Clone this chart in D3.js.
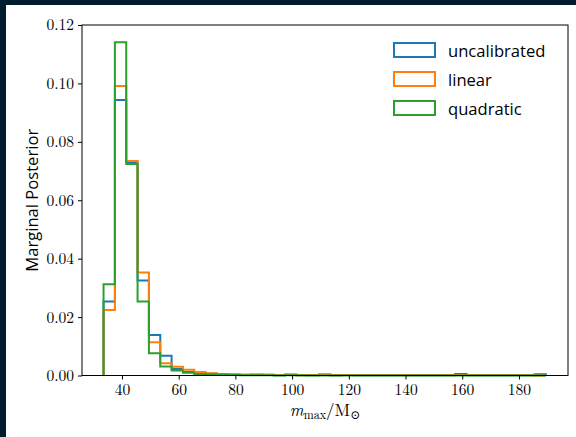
<!DOCTYPE html>
<html>
<head>
<meta charset="utf-8">
<script src="https://cdn.jsdelivr.net/npm/d3@7"></script>
<style>
html,body{margin:0;padding:0;background:#011c2f;}
svg{display:block;}
</style>
</head>
<body>
<script>
// ---- data ----
const binEdges = [33.5, 37.5, 41.5, 45.5, 49.5, 53.5, 57.5, 61.5, 65.5, 69.5,
  73.5, 77.5, 81.5, 85.5, 89.5, 93.5, 97.5, 101.5, 105.5, 109.5,
  113.5, 117.5, 121.5, 125.5, 129.5, 133.5, 137.5, 141.5, 145.5, 149.5,
  153.5, 157.5, 161.5, 165.5, 169.5, 173.5, 177.5, 181.5, 185.5, 189.5];
const seriesNames = ["uncalibrated", "linear", "quadratic"];
const seriesColors = ["#1f77b4", "#ff7f0e", "#2ca02c"];
const uncalibrated = [0.0253, 0.0943, 0.0731, 0.0325, 0.0139, 0.0068, 0.0022, 0.0012, 0.0008, 0.0006,
  0.0005, 0.0003, 0.0002, 0.0003, 0.0002, 0.0001, 0.0003, 0.0002, 0.0001, 0.0003,
  0.0001, 0.0002, 0.0001, 0.0001, 0.0001, 0.0001, 0.0001, 0.0001, 0.0001, 0.0001,
  0.0001, 0.0005, 0.0001, 0.0001, 0.0001, 0.0001, 0.0001, 0.0001, 0.0004];
const linear = [0.0224, 0.0991, 0.0734, 0.0353, 0.0114, 0.0042, 0.0030, 0.0020, 0.0012, 0.0008,
  0.0005, 0.0004, 0.0003, 0.0002, 0.0003, 0.0002, 0.0002, 0.0001, 0.0002, 0.0003,
  0.0001, 0.0002, 0.0002, 0.0002, 0.0002, 0.0002, 0.0002, 0.0002, 0.0002, 0.0002,
  0.0002, 0.0002, 0.0002, 0.0002, 0.0002, 0.0002, 0.0002, 0.0002, 0.0000];
const quadratic = [0.0312, 0.1141, 0.0724, 0.0253, 0.0076, 0.0031, 0.0017, 0.0009, 0.0005, 0.0004,
  0.0003, 0.0002, 0.0001, 0.0001, 0.0001, 0.0000, 0.0001, 0.0000, 0.0000, 0.0000,
  0.0000, 0.0000, 0.0000, 0.0000, 0.0000, 0.0000, 0.0000, 0.0000, 0.0000, 0.0000,
  0.0000, 0.0000, 0.0000, 0.0000, 0.0000, 0.0000, 0.0000, 0.0000, 0.0000];
const seriesValues = [uncalibrated, linear, quadratic];
const xTicks = [40, 60, 80, 100, 120, 140, 160, 180];
const yTicks = [0.00, 0.02, 0.04, 0.06, 0.08, 0.10, 0.12];
const xDomain = [25.9, 197.3];
const yDomain = [0, 0.12];

(function () {
// ---- layout ----
const W = 576, H = 437;
const pL = 82, pR = 568, pT = 25, pB = 375.5;

const svg = d3.select("body").append("svg").attr("width", W).attr("height", H);
svg.append("rect").attr("x", 6).attr("y", 5).attr("width", W - 6).attr("height", H - 5).attr("fill", "#ffffff");

const x = d3.scaleLinear().domain(xDomain).range([pL, pR]);
const y = d3.scaleLinear().domain(yDomain).range([pB, pT]);

const serif = "'Latin Modern Roman','CMU Serif','Liberation Serif','DejaVu Serif',serif";
const sans = "'Open Sans','Noto Sans',Lato,sans-serif";

// histograms (step)
seriesValues.forEach((vals, si) => {
  const pts = [[binEdges[0], 0]];
  vals.forEach((v, i) => { pts.push([binEdges[i], v]); pts.push([binEdges[i + 1], v]); });
  pts.push([binEdges[binEdges.length - 1], 0]);
  svg.append("path")
    .attr("d", d3.line().x(d => x(d[0])).y(d => y(d[1]))(pts))
    .attr("fill", "none")
    .attr("stroke", seriesColors[si])
    .attr("stroke-width", 2)
    .attr("stroke-linejoin", "miter");
});

// axes
const xAxis = svg.append("g").attr("transform", `translate(0,${pB})`)
  .call(d3.axisBottom(x).tickValues(xTicks).tickSize(4).tickPadding(4).tickFormat(d3.format("d")));
const yAxis = svg.append("g").attr("transform", `translate(${pL},0)`)
  .call(d3.axisLeft(y).tickValues(yTicks).tickSize(4).tickPadding(4).tickFormat(d3.format(".2f")));
[xAxis, yAxis].forEach(g => {
  g.select(".domain").remove();
  g.selectAll("line").attr("stroke", "#000").attr("stroke-width", 1);
  g.selectAll("text").attr("font-family", serif).attr("font-size", 15.5).attr("fill", "#000");
});

// spines
svg.append("rect").attr("x", pL).attr("y", pT).attr("width", pR - pL).attr("height", pB - pT)
  .attr("fill", "none").attr("stroke", "#000").attr("stroke-width", 1);

// y label
svg.append("text")
  .attr("transform", `translate(31,${(pT + pB) / 2}) rotate(-90)`)
  .attr("text-anchor", "middle").attr("dominant-baseline", "central")
  .attr("font-family", sans).attr("font-size", 16.6).attr("fill", "#000")
  .text("Marginal Posterior");

// x label
const xl = svg.append("text")
  .attr("x", (pL + pR) / 2).attr("y", 416)
  .attr("text-anchor", "middle")
  .attr("font-family", serif).attr("font-size", 17).attr("fill", "#000");
xl.append("tspan").attr("font-style", "italic").text("m");
xl.append("tspan").attr("font-size", 12).attr("dy", 3).text("max");
xl.append("tspan").attr("dy", -3).text("/M");
xl.append("tspan").attr("font-size", 12).attr("dy", 3).text("\u2299");

// legend
const leg = svg.append("g");
seriesNames.forEach((name, i) => {
  const cy = 50 + i * 29;
  leg.append("rect").attr("x", 394).attr("y", cy - 7).attr("width", 41).attr("height", 14)
    .attr("fill", "none").attr("stroke", seriesColors[i]).attr("stroke-width", 2);
  leg.append("text").attr("x", 448).attr("y", cy).attr("dominant-baseline", "central")
    .attr("font-family", sans).attr("font-size", 16.6).attr("fill", "#000").text(name);
});
})();
</script>
</body>
</html>
